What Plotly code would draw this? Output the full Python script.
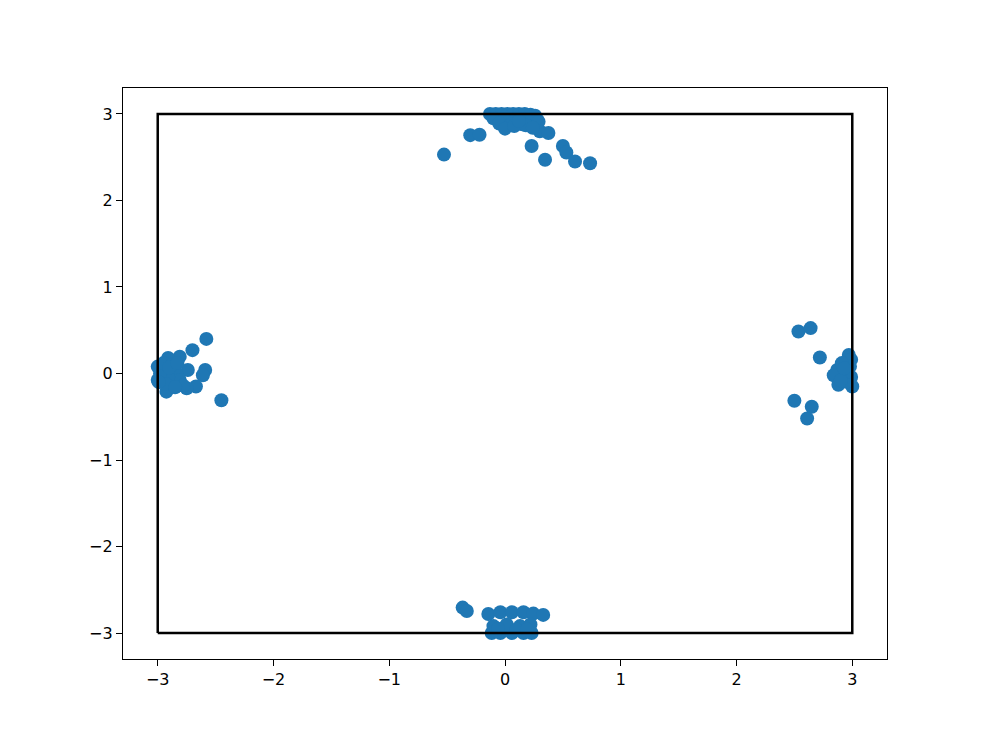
import plotly.graph_objects as go

# Top cluster
top_x = [-0.527, -0.30, -0.22, -0.13, -0.08, -0.03, 0.02, 0.07, 0.12, 0.17, 0.22, 0.26,
         -0.10, 0.0, 0.10, 0.20, 0.28, -0.05, 0.05, 0.15, 0.27, 0.0, 0.30, 0.29,
         0.23, 0.375, 0.346, 0.50, 0.53, 0.605, 0.735, 0.08, 0.18, 0.24, 0.12]
top_y = [2.53, 2.755, 2.76, 3.0, 3.0, 3.0, 3.0, 3.0, 3.0, 3.0, 2.99, 2.98,
         2.95, 2.96, 2.95, 2.94, 2.93, 2.89, 2.88, 2.88, 2.86, 2.83, 2.80, 2.91,
         2.63, 2.78, 2.47, 2.63, 2.555, 2.45, 2.43, 2.86, 2.87, 2.84, 2.92]

# Left cluster
left_x = [-2.58, -2.70, -2.59, -2.61, -2.45, -2.67, -2.75, -2.81, -2.91, -3.0, -3.0,
          -2.925, -2.74, -2.84, -2.87, -2.96, -2.81, -2.91, -2.98, -2.95, -2.88,
          -2.78, -2.93, -2.85, -2.99, -2.90, -2.83]
left_y = [0.40, 0.27, 0.04, -0.02, -0.31, -0.15, -0.17, 0.195, 0.18, 0.08, -0.075,
          -0.21, 0.04, 0.005, -0.11, 0.04, -0.075, -0.04, 0.0, 0.12, 0.10,
          -0.14, -0.12, -0.16, -0.10, 0.07, 0.12]

# Right cluster
right_x = [2.535, 2.64, 2.72, 2.50, 2.65, 2.61, 2.97, 2.99, 2.87, 2.84, 2.88, 3.0,
           2.94, 2.98, 2.99, 2.91, 2.95, 2.96, 2.90, 2.93]
right_y = [0.485, 0.525, 0.185, -0.315, -0.385, -0.52, 0.215, 0.16, 0.04, -0.02,
           -0.13, -0.15, -0.04, 0.08, -0.04, 0.12, -0.095, 0.02, -0.08, 0.06]

# Bottom cluster
bottom_x = [-0.366, -0.33, -0.144, -0.04, 0.06, 0.16, 0.245, 0.33, -0.115, -0.04,
            0.06, 0.16, 0.23, -0.10, 0.015, 0.13, 0.22, 0.10, -0.06, 0.19]
bottom_y = [-2.706, -2.745, -2.78, -2.76, -2.76, -2.76, -2.775, -2.79, -3.0, -3.0,
            -3.0, -3.0, -3.0, -2.92, -2.90, -2.92, -2.90, -2.96, -2.95, -2.96]

xs = top_x + left_x + right_x + bottom_x
ys = top_y + left_y + right_y + bottom_y

box_x = [-3, 3, 3, -3, -3]
box_y = [-3, -3, 3, 3, -3]

tick_vals = [-3, -2, -1, 0, 1, 2, 3]
tick_text = ["\u22123", "\u22122", "\u22121", "0", "1", "2", "3"]

fig = go.Figure()
fig.add_trace(go.Scatter(x=xs, y=ys, mode="markers",
                         marker=dict(color="#1f77b4", size=14, line=dict(width=0)),
                         showlegend=False, hoverinfo="skip"))
fig.add_trace(go.Scatter(x=box_x, y=box_y, mode="lines",
                         line=dict(color="black", width=2.5),
                         showlegend=False, hoverinfo="skip"))

axis_common = dict(
    showgrid=False, zeroline=False, showline=True, linecolor="black", linewidth=1.3,
    mirror=True, ticks="outside", ticklen=6, tickwidth=1.3, tickcolor="black",
    tickvals=tick_vals, ticktext=tick_text,
    tickfont=dict(family="DejaVu Sans", size=16, color="black"),
)
fig.update_xaxes(range=[-3.3, 3.3], **axis_common)
fig.update_yaxes(range=[-3.3, 3.3], **axis_common)

fig.update_layout(
    width=986, height=740,
    margin=dict(l=115, r=107, t=80, b=89),
    plot_bgcolor="white", paper_bgcolor="white",
)

fig.write_html("out.html")
